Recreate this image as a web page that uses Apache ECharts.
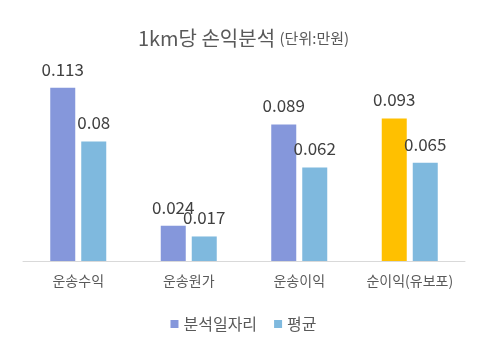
<!DOCTYPE html>
<html>
<head>
<meta charset="utf-8">
<script src="https://cdn.jsdelivr.net/npm/echarts@6/dist/echarts.min.js"></script>
<style>
html, body { margin: 0; padding: 0; background: #fff; }
#chart { width: 487px; height: 351px; }
</style>
</head>
<body>
<div id="chart"></div>
<script>
const categories = ['운송수익', '운송원가', '운송이익', '순이익(유보포)']
const seriesNames = ['분석일자리', '평균']
// bar heights, labels as printed on the chart
const analysisValues = [0.113, 0.023, 0.089, 0.093]
const analysisLabels = ['0.113', '0.024', '0.089', '0.093']
const averageValues = [0.078, 0.016, 0.061, 0.064]
const averageLabels = ['0.08', '0.017', '0.062', '0.065']

const font = "'Noto Sans CJK KR', 'Noto Sans', sans-serif"
const purple = '#8597db'
const blue = '#7fb9de'
const orange = '#ffc000'

const labelStyle = (texts) => ({
    show: true,
    position: 'top',
    distance: 10,
    color: '#404040',
    fontSize: 17,
    fontFamily: font,
    formatter: (p) => texts[p.dataIndex]
})

let chart = echarts.init(document.getElementById('chart'))
chart.setOption({
    animation: false,
    textStyle: { fontFamily: font },
    title: {
        text: '1km당 손익분석 {s|(단위:만원)}',
        left: 'center',
        top: 23,
        textStyle: {
            fontFamily: font,
            fontSize: 20,
            fontWeight: 'normal',
            color: '#595959',
            rich: {
                s: { fontFamily: font, fontSize: 15, color: '#595959' }
            }
        }
    },
    legend: {
        bottom: 14,
        left: 'center',
        itemWidth: 8,
        itemHeight: 8,
        itemGap: 17,
        icon: 'rect',
        textStyle: { fontFamily: font, fontSize: 16, color: '#595959' },
        data: seriesNames
    },
    grid: { left: 23, right: 22, top: 77, bottom: 90, containLabel: false },
    xAxis: {
        type: 'category',
        data: categories,
        axisLine: { lineStyle: { color: '#d9d9d9', width: 1 } },
        axisTick: { show: false },
        axisLabel: { color: '#595959', fontSize: 14, margin: 13, fontFamily: font, interval: 0 }
    },
    yAxis: {
        type: 'value',
        min: 0,
        max: 0.12,
        show: false,
        splitLine: { show: false }
    },
    series: [
        {
            name: seriesNames[0],
            type: 'bar',
            barWidth: 25,
            barGap: '24%',
            itemStyle: { color: purple },
            data: analysisValues.map((v, i) => i === 3 ? { value: v, itemStyle: { color: orange } } : v),
            label: labelStyle(analysisLabels)
        },
        {
            name: seriesNames[1],
            type: 'bar',
            barWidth: 25,
            itemStyle: { color: blue },
            data: averageValues,
            label: labelStyle(averageLabels)
        }
    ]
});
</script>
</body>
</html>
